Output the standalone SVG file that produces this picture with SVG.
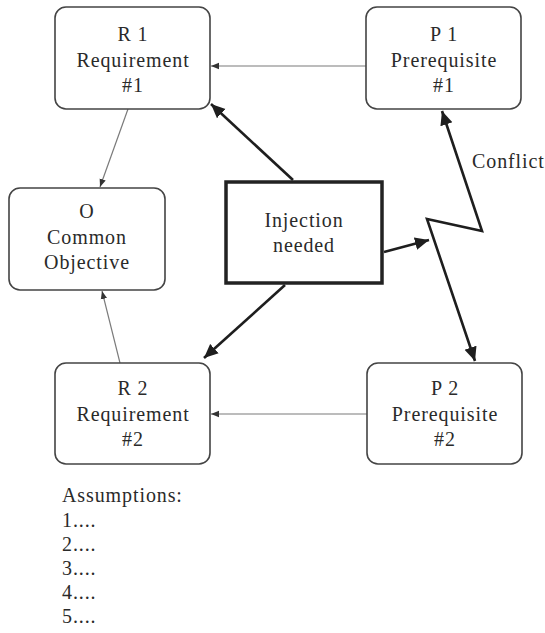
<svg xmlns="http://www.w3.org/2000/svg" width="545" height="633" viewBox="0 0 545 633">
  <style>
    .box { fill: #fff; stroke: #444; stroke-width: 1.6; }
    .inj { fill: #fff; stroke: #222; stroke-width: 3.5; }
    .t { font-family: "Liberation Serif", "Times New Roman", serif; font-size: 20px; letter-spacing: 0.9px; fill: #2a2a2a; text-anchor: middle; }
    .l { font-family: "Liberation Serif", "Times New Roman", serif; font-size: 20px; letter-spacing: 0.9px; fill: #2a2a2a; }
    .thin { fill: none; stroke: #7a7a7a; stroke-width: 1.2; marker-end: url(#ah-thin); }
    .thick { fill: none; stroke: #1e1e1e; stroke-width: 2.6; stroke-linejoin: miter; }
  </style>
  <defs>
    <marker id="ah-thin" viewBox="0 0 10 10" refX="10" refY="5" markerWidth="8" markerHeight="8" markerUnits="userSpaceOnUse" orient="auto">
      <path d="M0,1 L10,5 L0,9 Z" fill="#333"/>
    </marker>
    <marker id="ah-thick" viewBox="0 0 10 10" refX="10" refY="5" markerWidth="14" markerHeight="14" markerUnits="userSpaceOnUse" orient="auto">
      <path d="M0,0.5 L10,5 L0,9.5 Z" fill="#1e1e1e"/>
    </marker>
    <marker id="ah-thick-start" viewBox="0 0 10 10" refX="0" refY="5" markerWidth="14" markerHeight="14" markerUnits="userSpaceOnUse" orient="auto">
      <path d="M10,0.5 L0,5 L10,9.5 Z" fill="#1e1e1e"/>
    </marker>
  </defs>

  <rect width="545" height="633" fill="#fff"/>

  <!-- connectors -->
  <g id="connectors">
    <line class="thin" x1="366" y1="66" x2="211" y2="66"/>
    <line class="thin" x1="128" y1="109" x2="100" y2="187"/>
    <line class="thin" x1="120" y1="363" x2="102" y2="291"/>
    <line class="thin" x1="367" y1="414" x2="211" y2="414"/>
    <line class="thick" x1="293" y1="180" x2="211" y2="104" marker-end="url(#ah-thick)"/>
    <line class="thick" x1="285" y1="285" x2="204" y2="358" marker-end="url(#ah-thick)"/>
    <line class="thick" x1="384" y1="252" x2="429" y2="240" marker-end="url(#ah-thick)"/>
    <polyline class="thick" points="442,111 482,231 427,219 475,361" marker-start="url(#ah-thick-start)" marker-end="url(#ah-thick)"/>
    <text class="l" x="472" y="168">Conflict</text>
  </g>

  <!-- nodes -->
  <g id="R1">
    <rect class="box" x="55" y="7" width="155" height="102" rx="11"/>
    <text class="t" x="133" y="41">R 1</text>
    <text class="t" x="133" y="67">Requirement</text>
    <text class="t" x="133" y="92">#1</text>
  </g>
  <g id="P1">
    <rect class="box" x="366" y="7" width="155" height="102" rx="11"/>
    <text class="t" x="444" y="41">P 1</text>
    <text class="t" x="444" y="67">Prerequisite</text>
    <text class="t" x="444" y="92">#1</text>
  </g>
  <g id="O">
    <rect class="box" x="9" y="188" width="156" height="102" rx="11"/>
    <text class="t" x="87" y="218">O</text>
    <text class="t" x="87" y="244">Common</text>
    <text class="t" x="87" y="269">Objective</text>
  </g>
  <g id="Injection">
    <rect class="inj" x="226" y="182" width="156" height="101"/>
    <text class="t" x="304" y="227">Injection</text>
    <text class="t" x="304" y="252">needed</text>
  </g>
  <g id="R2">
    <rect class="box" x="55" y="363" width="155" height="101" rx="11"/>
    <text class="t" x="133" y="395">R 2</text>
    <text class="t" x="133" y="421">Requirement</text>
    <text class="t" x="133" y="446">#2</text>
  </g>
  <g id="P2">
    <rect class="box" x="367" y="363" width="155" height="101" rx="11"/>
    <text class="t" x="445" y="395">P 2</text>
    <text class="t" x="445" y="421">Prerequisite</text>
    <text class="t" x="445" y="446">#2</text>
  </g>

  <!-- assumptions list -->
  <g id="assumptions">
    <text class="l" x="62" y="502">Assumptions:</text>
    <text class="l" x="62" y="527">1....</text>
    <text class="l" x="62" y="551">2....</text>
    <text class="l" x="62" y="575">3....</text>
    <text class="l" x="62" y="599">4....</text>
    <text class="l" x="62" y="623">5....</text>
  </g>
</svg>
